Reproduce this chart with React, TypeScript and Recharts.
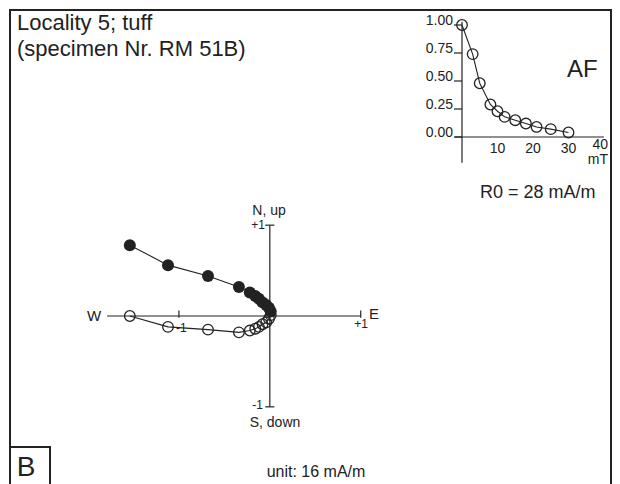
import { ScatterChart, Scatter, XAxis, YAxis, ReferenceLine } from "recharts";

// Zijderveld data (units of 16 mA/m)
const east = [-1.54, -1.12, -0.68, -0.34, -0.22, -0.16, -0.12, -0.08, -0.04, -0.01, 0.01];
const north = [0.78, 0.56, 0.44, 0.32, 0.26, 0.22, 0.19, 0.15, 0.12, 0.09, 0.05];
const up = [0.0, -0.12, -0.15, -0.18, -0.16, -0.14, -0.12, -0.09, -0.07, -0.03, 0.01];

// AF demagnetisation
const fieldSteps = [0, 3, 5, 8, 10, 12, 15, 18, 21, 25, 30];
const intensity = [1.0, 0.74, 0.48, 0.29, 0.23, 0.18, 0.15, 0.12, 0.09, 0.07, 0.04];
const afTicksY = [0, 0.25, 0.5, 0.75, 1];
const afTicksX = [10, 20, 30, 40];

const ink = "#222";
const font = "'Liberation Sans', Arial, Helvetica, sans-serif";

const horizData = east.map((x, i) => ({ x, y: north[i] }));
const vertData = east.map((x, i) => ({ x, y: up[i] }));
const afData = fieldSteps.map((f, i) => ({ f, m: intensity[i] }));

const FilledDot = (p: any) => <circle cx={p.cx} cy={p.cy} r={6} fill={ink} />;
const OpenDot = (p: any) => (
  <circle cx={p.cx} cy={p.cy} r={5.3} fill="none" stroke={ink} strokeWidth={1.3} />
);

const AfYTick = (p: any) => (
  <text x={p.x} y={p.y - 5} dy="0.355em" textAnchor="end" fontSize={14} fontFamily={font} fill={ink}>
    {p.payload.value.toFixed(2)}
  </text>
);

const AfXTick = (p: any) => {
  const v = p.payload.value;
  if (v === 40) {
    return (
      <text x={p.x + 4} y={p.y} textAnchor="end" fontSize={14} fontFamily={font} fill={ink}>
        <tspan x={p.x + 4} dy="0.45em">40</tspan>
        <tspan x={p.x + 4} dy="1.05em">mT</tspan>
      </text>
    );
  }
  return (
    <text x={p.x} y={p.y} dy="0.71em" textAnchor="middle" fontSize={14} fontFamily={font} fill={ink}>
      {v}
    </text>
  );
};

const seg = (x1: number, y1: number, x2: number, y2: number) => [
  { x: x1, y: y1 },
  { x: x2, y: y2 },
];

export default function App() {
  return (
    <div style={{ position: "relative", width: 604, height: 476, fontFamily: font, overflow: "hidden" }}>
      {/* Zijderveld plot */}
      <div style={{ position: "absolute", left: 80, top: 199 }}>
        <ScatterChart width={300} height={218} margin={{ top: 0, right: 0, bottom: 0, left: 0 }}>
          <XAxis type="number" dataKey="x" domain={[-2, 1.3]} hide />
          <YAxis type="number" dataKey="y" domain={[-1.2, 1.2]} hide />
          <ReferenceLine segment={seg(-1.79, 0, 1, 0)} stroke={ink} strokeWidth={1.2} ifOverflow="visible" />
          <ReferenceLine segment={seg(0, 1, 0, -1)} stroke={ink} strokeWidth={1.2} ifOverflow="visible" />
          <ReferenceLine segment={seg(1, -0.02, 1, 0.06)} stroke={ink} strokeWidth={1.2} ifOverflow="visible" />
          <ReferenceLine segment={seg(-1, -0.02, -1, 0.06)} stroke={ink} strokeWidth={1.2} ifOverflow="visible" />
          <ReferenceLine segment={seg(-0.05, 1, 0.05, 1)} stroke={ink} strokeWidth={1.2} ifOverflow="visible" />
          <ReferenceLine segment={seg(-0.05, -1, 0.05, -1)} stroke={ink} strokeWidth={1.2} ifOverflow="visible" />
          <Scatter data={vertData} line={{ stroke: ink, strokeWidth: 1.1 }} shape={OpenDot} isAnimationActive={false} />
          <Scatter data={horizData} line={{ stroke: ink, strokeWidth: 1.1 }} shape={FilledDot} isAnimationActive={false} />
        </ScatterChart>
      </div>

      {/* AF inset */}
      <div style={{ position: "absolute", left: 414, top: 3 }}>
        <ScatterChart width={196} height={166} margin={{ top: 14, right: 14, bottom: 0, left: 0 }}>
          <XAxis
            type="number"
            dataKey="f"
            domain={[0, 40]}
            ticks={afTicksX}
            axisLine={false}
            tickLine={false}
            tickSize={6}
            tickMargin={0}
            height={40}
            tick={AfXTick}
          />
          <YAxis
            type="number"
            dataKey="m"
            domain={[0, 1]}
            ticks={afTicksY}
            axisLine={false}
            tickLine={{ stroke: ink, strokeWidth: 1.2 }}
            tickSize={8}
            tickMargin={1}
            width={40}
            tick={AfYTick}
          />
          <ReferenceLine segment={seg(-2, 0, 40, 0)} stroke={ink} strokeWidth={1.2} ifOverflow="visible" />
          <ReferenceLine segment={seg(0, 1.03, 0, -0.23)} stroke={ink} strokeWidth={1.2} ifOverflow="visible" />
          <Scatter data={afData} line={{ stroke: ink, strokeWidth: 1.1 }} shape={OpenDot} isAnimationActive={false} />
        </ScatterChart>
      </div>

      {/* frame and labels */}
      <svg
        width={604}
        height={476}
        style={{ position: "absolute", left: 0, top: 0, pointerEvents: "none" }}
        fontFamily={font}
        fill={ink}
      >
        <rect x={2} y={2} width={601} height={500} fill="none" stroke={ink} strokeWidth={2} />
        <rect x={2} y={439} width={40} height={60} fill="none" stroke={ink} strokeWidth={2} />
        <text x={18} y={468} fontSize={28} textAnchor="middle">B</text>

        <text x={9} y={22} fontSize={22}>Locality 5; tuff</text>
        <text x={9} y={48} fontSize={22}>(specimen Nr. RM 51B)</text>
        <text x={559} y={69} fontSize={24}>AF</text>
        <text x={472} y={190} fontSize={18}>R0 = 28 mA/m</text>

        <text x={261} y={207} fontSize={14} textAnchor="middle">N, up</text>
        <text x={257} y={221} fontSize={12} textAnchor="end">+1</text>
        <text x={255} y={401} fontSize={12} textAnchor="end">-1</text>
        <text x={267} y={419} fontSize={14} textAnchor="middle">S, down</text>
        <text x={86} y={313} fontSize={15} textAnchor="middle">W</text>
        <text x={361} y={311} fontSize={15}>E</text>
        <text x={353} y={320} fontSize={12} textAnchor="middle">+1</text>
        <text x={168} y={324} fontSize={12}>-1</text>
        <text x={308} y={469} fontSize={16} textAnchor="middle">unit: 16 mA/m</text>
      </svg>
    </div>
  );
}
